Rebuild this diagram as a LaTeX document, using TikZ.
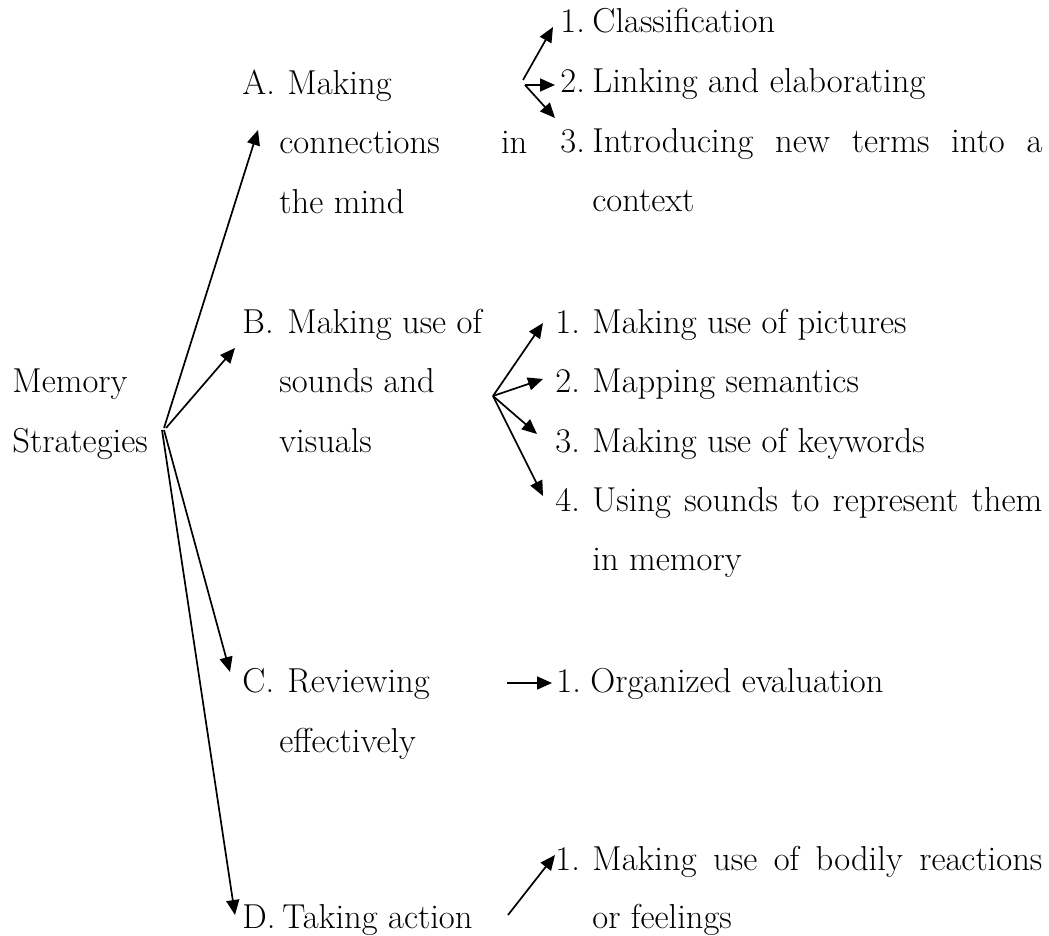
\documentclass[tikz,border=0pt]{standalone}
\usetikzlibrary{arrows.meta}
\begin{document}
\begin{tikzpicture}[x=0.5pt,y=-0.5pt]
                \tikzstyle{every node}+=[inner sep=0pt,anchor=base west,font=\fontsize{17.3}{20}\selectfont]
                \tikzstyle{arr}=[line width=0.85pt,-{Triangle[length=7.5pt,width=6.5pt]}]
                \useasboundingbox (0,0) rectangle (1049,936);
                \node (mem) at (12,392) {Memory};
                \node (strat) at (12,452) {Strategies};
                \node (alab) at (242,95) {A.};
                \node (aone) at (287,95) {Making};
                \node (atwo) at (279,154) {\makebox[124pt][s]{connections in}};
                \node (athree) at (279,214) {the mind};
                \node (blab) at (242,333) {B.};
                \node (bone) at (287,333) {Making use of};
                \node (btwo) at (279,392) {sounds and};
                \node (bthree) at (279,452) {visuals};
                \node (clab) at (242,692) {C.};
                \node (cone) at (287,692) {Reviewing};
                \node (ctwo) at (279,752) {effectively};
                \node (dlab) at (242,928) {D.};
                \node (done) at (282,928) {Taking action};
                \node (aonen) at (560,33) {1.};
                \node (aonet) at (592,33) {Classification};
                \node (atwon) at (560,93) {2.};
                \node (atwot) at (592,93) {Linking and elaborating};
                \node (athreen) at (560,153) {3.};
                \node (athreet) at (592,153) {\makebox[225pt][s]{Introducing new terms into a}};
                \node (athreec) at (592,212) {context};
                \node (bonen) at (555,333) {1.};
                \node (bonet) at (592,333) {Making use of pictures};
                \node (btwon) at (555,392) {2.};
                \node (btwot) at (592,392) {Mapping semantics};
                \node (bthreen) at (555,452) {3.};
                \node (bthreet) at (592,452) {Making use of keywords};
                \node (bfourn) at (555,511) {4.};
                \node (bfourt) at (592,511) {\makebox[225pt][s]{Using sounds to represent them}};
                \node (bfourc) at (592,570) {in memory};
                \node (conen) at (556,692) {1.};
                \node (conet) at (590,692) {Organized evaluation};
                \node (donen) at (555,870) {1.};
                \node (donet) at (592,870) {\makebox[225pt][s]{Making use of bodily reactions}};
                \node (donec) at (592,928) {or feelings};
                \coordinate (hubup) at (164,428);
                \coordinate (hubdown) at (162,430);
                \coordinate (tipa) at (258,130);
                \coordinate (tipb) at (235,348);
                \coordinate (tipc) at (230,672);
                \coordinate (tipd) at (235,915);
                \draw [arr] (hubup) -- (tipa);
                \draw [arr] ([xshift=1pt]hubup) -- (tipb);
                \draw [arr] ([xshift=1pt]hubdown) -- (tipc);
                \draw [arr] (hubdown) -- (tipd);
                \coordinate (huba) at (523,80);
                \coordinate (hubaa) at (525,85);
                \draw [arr] (huba) -- (553,27);
                \draw [arr] (hubaa) -- (555,85);
                \draw [arr] (hubaa) -- (555,118);
                \coordinate (hubb) at (493,396);
                \draw [arr] (hubb) -- (543,323);
                \draw [arr] (hubb) -- (543,379);
                \draw [arr] (hubb) -- (537,434);
                \draw [arr] (hubb) -- (543,496);
                \coordinate (hubc) at (507,683);
                \draw [arr] (hubc) -- (552,683);
                \coordinate (hubd) at (508,915);
                \draw [arr] (hubd) -- (555,855);
            \end{tikzpicture}
\end{document}
